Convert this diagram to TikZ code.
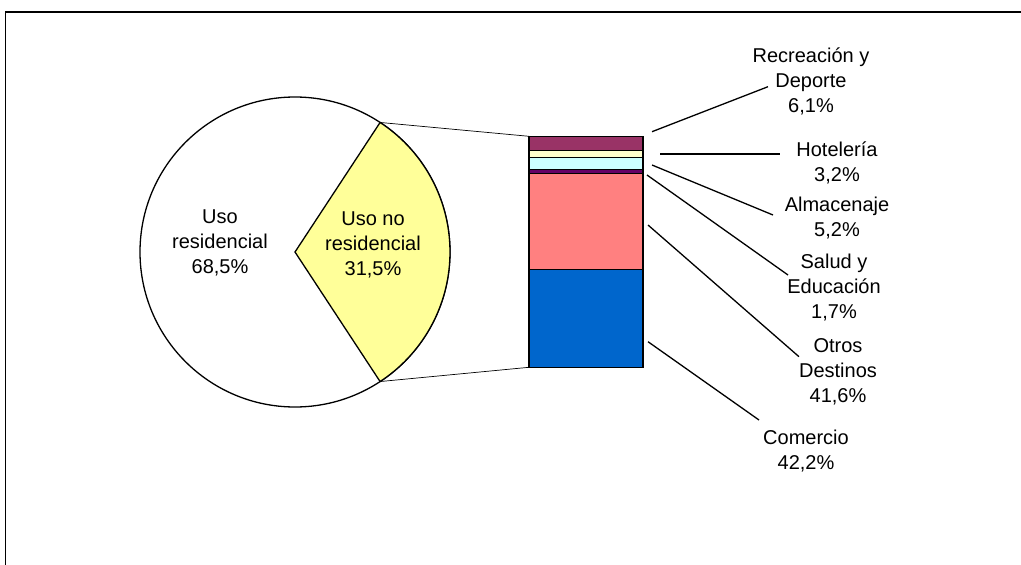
\documentclass[tikz,border=0pt]{standalone}
\usepackage{fontspec}
\setmainfont{Liberation Sans}
\definecolor{cRec}{HTML}{993366}
\definecolor{cHot}{HTML}{FFFFCC}
\definecolor{cAlm}{HTML}{CCFFFF}
\definecolor{cSal}{HTML}{660066}
\definecolor{cOtr}{HTML}{FF8080}
\definecolor{cCom}{HTML}{0066CC}
\definecolor{cYel}{HTML}{FFFF99}
\tikzset{
  lbl/.style={align=center,inner sep=0pt,font=\fontsize{20}{25}\selectfont},
  seg/.style={draw=black,line width=1.3pt},
  leader/.style={draw=black,line width=1.3pt},
  thin/.style={draw=black,line width=0.7pt}
}
\begin{document}
\begin{tikzpicture}[x=1pt,y=-1pt]
\useasboundingbox (0,0) rectangle (1021,565);
% frame
\draw[line width=1.5pt] (1021,12) -- (5.5,12) -- (5.5,565);
% pie
\coordinate (pc) at (295,252);
\draw[line width=1.3pt,fill=white] (pc) circle[radius=155];
\draw[line width=1.3pt,fill=cYel] (pc) -- ++(-56.7:155) coordinate (ptop) arc[start angle=-56.7,end angle=56.7,radius=155] coordinate (pbot) -- cycle;
% bar
\coordinate (b0) at (529,367.3);
\coordinate (b1) at (643,269.8);
\coordinate (b2) at (529,269.8);
\coordinate (b3) at (643,173.7);
\coordinate (b4) at (529,173.7);
\coordinate (b5) at (643,169.8);
\coordinate (b6) at (529,169.8);
\coordinate (b7) at (643,157.8);
\coordinate (b8) at (529,157.8);
\coordinate (b9) at (643,150.4);
\coordinate (b10) at (529,150.4);
\coordinate (b11) at (643,136.3);
\draw[seg,fill=cCom] (b0) rectangle (b1);
\draw[seg,fill=cOtr] (b2) rectangle (b3);
\draw[seg,fill=cSal] (b4) rectangle (b5);
\draw[seg,fill=cAlm] (b6) rectangle (b7);
\draw[seg,fill=cHot] (b8) rectangle (b9);
\draw[seg,fill=cRec] (b10) rectangle (b11);
\coordinate (bartop) at (529,136.3);
% pie to bar connectors
\draw[thin] (ptop) -- (bartop);
\draw[thin] (pbot) -- (b0);
% labels
\node[lbl] (lres) at (220,243) {Uso\\residencial\\68,5\%};
\node[lbl] (lnores) at (373,245) {Uso no\\residencial\\31,5\%};
\node[lbl] (lrec) at (811,81) {Recreación y\\Deporte\\6,1\%};
\node[lbl] (lhot) at (837,163) {Hotelería\\3,2\%};
\node[lbl] (lalm) at (837,218) {Almacenaje\\5,2\%};
\node[lbl] (lsal) at (834,288) {Salud y\\Educación\\1,7\%};
\node[lbl] (lotr) at (838,372) {Otros\\Destinos\\41,6\%};
\node[lbl] (lcom) at (806,451) {Comercio\\42,2\%};
% leader lines
\coordinate (rA) at (652,131.7); \coordinate (rB) at (768,86.7);
\coordinate (hA) at (660,154); \coordinate (hB) at (780,154);
\coordinate (aA) at (652,165); \coordinate (aB) at (773,215);
\coordinate (sA) at (647,175); \coordinate (sB) at (788,275);
\coordinate (oA) at (648,225); \coordinate (oB) at (799,356.7);
\coordinate (cA) at (648,341.7); \coordinate (cB) at (759,420);
\draw[leader] (rA) -- (rB);
\draw[leader] (hA) -- (hB);
\draw[leader] (aA) -- (aB);
\draw[leader] (sA) -- (sB);
\draw[leader] (oA) -- (oB);
\draw[leader] (cA) -- (cB);
\end{tikzpicture}
\end{document}
